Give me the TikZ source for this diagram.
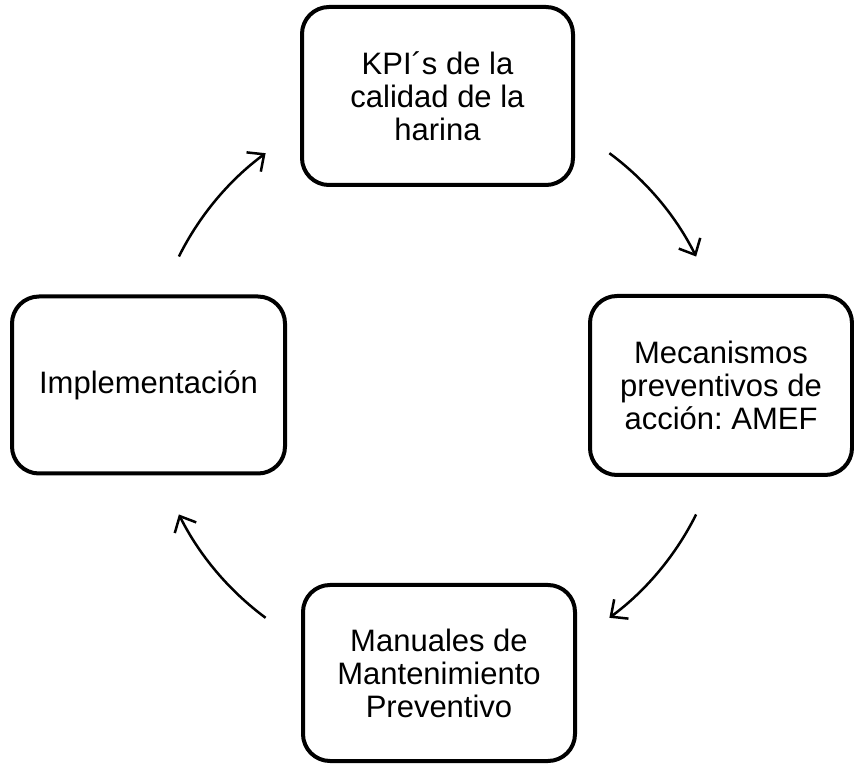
\documentclass[tikz,border=0pt]{standalone}
\usepackage{fontspec}
\setmainfont{Liberation Sans}
\usepackage{xcolor}
\usepackage{tikz}
\usetikzlibrary{positioning, arrows.meta, calc}
\definecolor{lineBlack}{HTML}{000000}
\frenchspacing

\begin{document}
\begin{tikzpicture}[
  x=1pt, y=1pt,
  every node/.style={font=\fontsize{31}{33}\selectfont},
  stagebox/.style={rectangle, rounded corners=27pt, draw=lineBlack, line width=4pt,
              text=lineBlack, minimum width=271pt, minimum height=178pt,
              align=center, inner sep=2pt},
  cyc/.style={-{Straight Barb[length=13pt, width=24pt, line width=2.5pt]},
              lineBlack, line width=2.5pt},
]
  \useasboundingbox (0,0) rectangle (854,763);

  % ═══ The four stages of the cycle ═══
  \node[stagebox] at (437.5, 667) (kpi) {KPI´s de la\\calidad de la\\harina};
  \node[stagebox, minimum width=262pt, minimum height=179pt]
        at (721, 377.5) (amef) {Mecanismos\\preventivos de\\acción: AMEF};
  \node[stagebox, minimum width=272pt, minimum height=176pt]
        at (439, 90) (manual) {Manuales de\\Mantenimiento\\Preventivo};
  \node[stagebox, minimum width=273pt, minimum height=177pt]
        at (148.5, 378) (impl) {Implementación};

  % ═══ Arcs on a common circle round the centre ═══
  \coordinate (hub) at (437.5, 377.5);
  \coordinate (impl_out)   at ($(hub) + (153.5:289)$);
  \coordinate (kpi_out)    at ($(hub) + (53.5:289)$);
  \coordinate (amef_out)   at ($(hub) + (-26.5:289)$);
  \coordinate (manual_out) at ($(hub) + (-126.5:289)$);

  \draw[cyc] (impl_out)   arc[start angle=153.5,  end angle=126.5,  radius=289];
  \draw[cyc] (kpi_out)    arc[start angle=53.5,   end angle=26.5,   radius=289];
  \draw[cyc] (amef_out)   arc[start angle=-26.5,  end angle=-53.5,  radius=289];
  \draw[cyc] (manual_out) arc[start angle=-126.5, end angle=-153.5, radius=289];
\end{tikzpicture}
\end{document}
